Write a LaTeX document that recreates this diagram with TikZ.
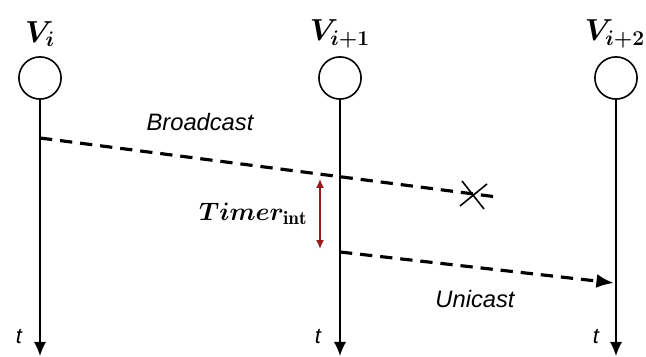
\documentclass[tikz,border=0pt]{standalone}
\usepackage{amsmath,bm}
\usepackage{fontspec}
\usepackage{tikz}
\usetikzlibrary{arrows.meta,positioning,calc}
\newfontfamily\labfont{Liberation Sans}
\definecolor{Ink}{HTML}{000000}
\definecolor{TimerRed}{HTML}{9A1C1C}
\tikzset{
  >=Latex,
  nodecirc/.style={circle,draw=Ink,line width=.9pt,fill=white,minimum size=24pt,inner sep=0pt},
  vname/.style={font=\fontsize{18}{20}\selectfont,inner sep=0pt},
  timeline/.style={->,line width=.9pt,draw=Ink,>={Latex[length=8pt,width=7pt]}},
  msg/.style={line width=1.8pt,draw=Ink,dash pattern=on 7pt off 4.5pt},
  msgarrow/.style={msg,-{Latex[length=10pt,width=8pt]}},
  timerarrow/.style={<->,line width=.8pt,draw=TimerRed,>={Latex[length=5pt,width=4.5pt]}},
  lab/.style={font=\labfont\itshape\fontsize{13.5}{15}\selectfont,inner sep=0pt},
  tlab/.style={font=\labfont\itshape\fontsize{12.5}{14}\selectfont,inner sep=0pt}
}

\begin{document}
\begin{tikzpicture}[x=0.02cm,y=-0.02cm]
    \useasboundingbox (0,0) rectangle (646,357);
    % nodes and their names
    \node[nodecirc] (v0) at (40,78) {}; \node[nodecirc] (v1) at (340,78) {};
    \node[nodecirc] (v2) at (616,78) {};
    \node[vname] (n0) at (40,34) {$\bm{V_i}$};
    \node[vname] (n1) at (340,34) {$\bm{V_{i+1}}$};
    \node[vname] (n2) at (615,34) {$\bm{V_{i+2}}$};
    % time axes
    \coordinate (e0) at (40,356); \coordinate (e1) at (340,356); \coordinate (e2) at (616,356);
    \draw[timeline] (v0)--(e0); \draw[timeline] (v1)--(e1); \draw[timeline] (v2)--(e2);
    \node[tlab] (t0) at (19,337) {t}; \node[tlab] (t1) at (318,337) {t};
    \node[tlab] (t2) at (596,337) {t};
    % broadcast, lost at the cross
    \coordinate (b0) at (40,138); \coordinate (b1) at (497,197); \coordinate (lost) at (473,195);
    \draw[msg] (b0)--(b1);
    \draw[line width=.9pt,draw=Ink] ($(lost)+(-11,-14)$)--($(lost)+(11,14)$);
    \draw[line width=.9pt,draw=Ink] ($(lost)+(14,-11)$)--($(lost)+(-13,11)$);
    \node[lab] (bc) at (200,122) {Broadcast};
    % timer
    \coordinate (tm0) at (320,179); \coordinate (tm1) at (320,249);
    \draw[timerarrow] (tm0)--(tm1);
    \node[vname,font=\fontsize{15.5}{18}\selectfont,left=7pt of $(tm0)!.5!(tm1)$] (tm) {$\bm{Timer}_{\mathbf{int}}$};
    % unicast
    \coordinate (u0) at (340,252); \coordinate (u1) at (614,283);
    \draw[msgarrow] (u0)--(u1);
    \node[lab] (uc) at (475,299) {Unicast};
  \end{tikzpicture}
\end{document}
